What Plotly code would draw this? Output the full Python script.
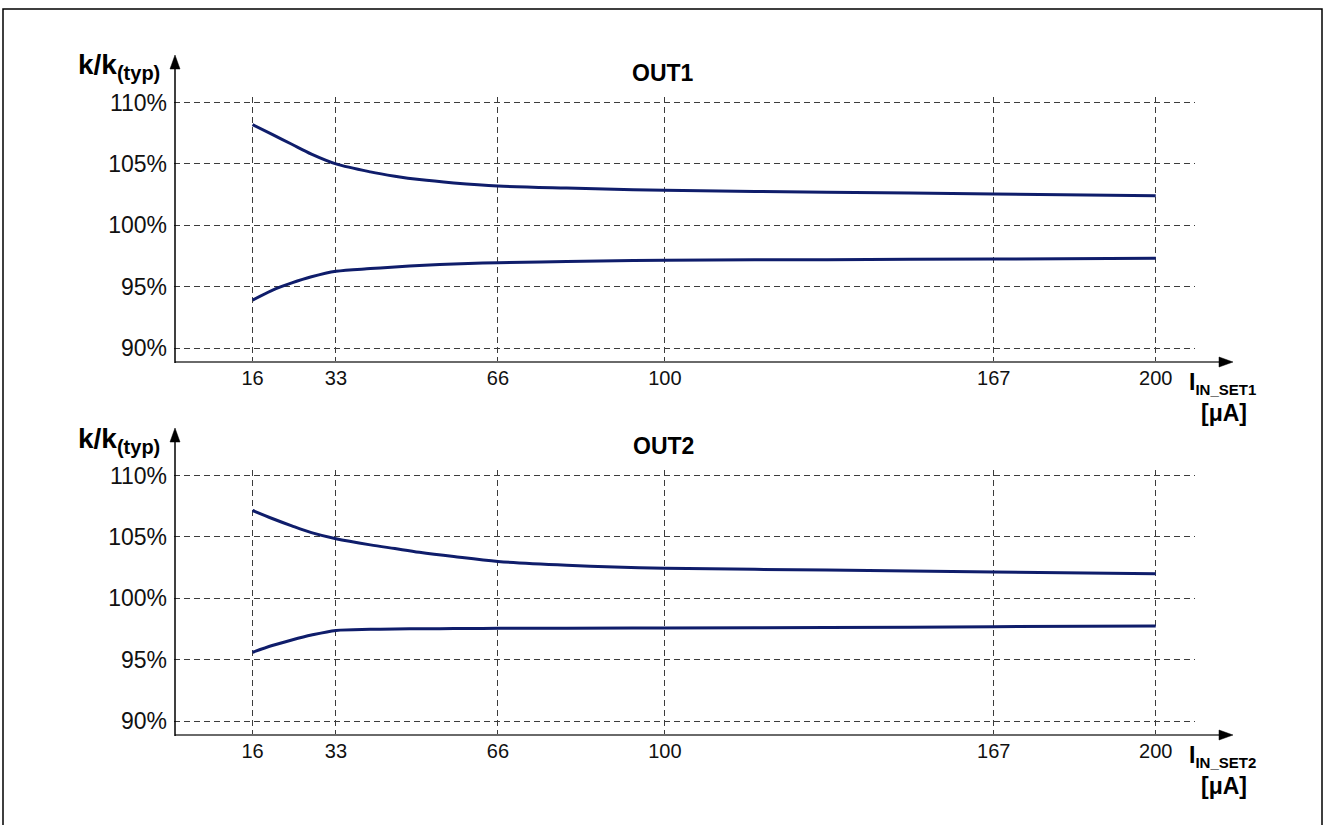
import plotly.graph_objects as go

W, H = 1328, 825

# ---- data ----
x_vals = [16, 20, 24, 28, 33, 40, 45, 50, 57, 66, 80, 100, 133, 167, 200]
out1_upper = [108.2, 107.4, 106.6, 105.8, 105.0, 104.35, 104.0, 103.72, 103.45, 103.2, 103.03, 102.85, 102.7, 102.55, 102.4]
out1_lower = [93.9, 94.7, 95.3, 95.8, 96.25, 96.47, 96.6, 96.72, 96.84, 96.95, 97.05, 97.15, 97.2, 97.25, 97.32]
out2_upper = [107.15, 106.5, 105.9, 105.35, 104.85, 104.35, 104.05, 103.75, 103.4, 103.0, 102.7, 102.45, 102.3, 102.15, 102.0]
out2_lower = [95.6, 96.15, 96.6, 97.0, 97.38, 97.47, 97.5, 97.52, 97.53, 97.55, 97.56, 97.58, 97.62, 97.68, 97.75]

x_ticks = [16, 33, 66, 100, 167, 200]
x_tick_labels = ["16", "33", "66", "100", "167", "200"]
y_ticks = [90, 95, 100, 105, 110]
y_tick_labels = ["90%", "95%", "100%", "105%", "110%"]
titles = ["OUT1", "OUT2"]
x_titles = ["IN_SET1", "IN_SET2"]

FONT = "Liberation Sans, Arial, sans-serif"
LINE_COLOR = "#0f1d6b"
GRID_COLOR = "#3c3c3c"


def px(x):
    return x / W


def py(y):
    return 1 - y / H


fig = go.Figure()

# plot-area pixel geometry
x_left, x_right = 174, 1195
panels = [
    dict(top=97, bottom=362, xa="x", ya="y", up=out1_upper, lo=out1_lower),
    dict(top=470, bottom=735, xa="x2", ya="y2", up=out2_upper, lo=out2_lower),
]

for p in panels:
    for ys in (p["up"], p["lo"]):
        fig.add_trace(go.Scatter(
            x=x_vals, y=ys, mode="lines",
            line=dict(color=LINE_COLOR, width=3, shape="spline", smoothing=0.9),
            xaxis=p["xa"], yaxis=p["ya"], showlegend=False, hoverinfo="skip",
        ))

axis_common_x = dict(
    range=[0, 208], tickvals=x_ticks, ticktext=x_tick_labels,
    showgrid=True, gridcolor=GRID_COLOR, gridwidth=1, griddash="6px,4px",
    zeroline=False, showline=False, ticks="", automargin=False,
    tickfont=dict(family=FONT, size=20, color="#111"),
    ticklabelstandoff=2,
)
axis_common_y = dict(
    range=[88.86, 110.45], tickvals=y_ticks, ticktext=y_tick_labels,
    showgrid=True, gridcolor=GRID_COLOR, gridwidth=1, griddash="6px,4px",
    zeroline=False, showline=False, ticks="", automargin=False,
    tickfont=dict(family=FONT, size=23, color="#111"),
    ticklabelstandoff=6,
)

layout = dict(
    template="none",
    width=W, height=H, autosize=False,
    margin=dict(l=0, r=0, t=0, b=0, pad=0, autoexpand=False),
    paper_bgcolor="white", plot_bgcolor="white",
    showlegend=False,
)
for i, p in enumerate(panels):
    sfx = "" if i == 0 else "2"
    layout["xaxis" + sfx] = dict(axis_common_x, domain=[px(x_left), px(x_right)],
                                 anchor="y" + sfx)
    layout["yaxis" + sfx] = dict(axis_common_y, domain=[py(p["bottom"]), py(p["top"])],
                                 anchor="x" + sfx)
fig.update_layout(**layout)

shapes = []
annotations = []
# outer frame
shapes.append(dict(type="rect", xref="paper", yref="paper",
                   x0=px(3), x1=px(1322), y0=py(835), y1=py(9),
                   line=dict(color="black", width=1.5)))

for i, p in enumerate(panels):
    ax_y = p["bottom"]
    # x axis line + arrow
    shapes.append(dict(type="line", xref="paper", yref="paper",
                       x0=px(175), x1=px(1222), y0=py(ax_y), y1=py(ax_y),
                       line=dict(color="#6a6a6a", width=2)))
    shapes.append(dict(type="path", xref="paper", yref="paper",
                       path=f"M {px(1233)} {py(ax_y)} L {px(1219)} {py(ax_y - 5)} L {px(1219)} {py(ax_y + 5)} Z",
                       fillcolor="black", line=dict(color="black", width=0.5)))
    # y axis line + arrow
    y_tip = p["top"] - 42
    shapes.append(dict(type="line", xref="paper", yref="paper",
                       x0=px(175), x1=px(175), y0=py(ax_y + 1), y1=py(y_tip + 10),
                       line=dict(color="black", width=1.5)))
    shapes.append(dict(type="path", xref="paper", yref="paper",
                       path=f"M {px(175)} {py(y_tip)} L {px(170)} {py(y_tip + 14)} L {px(180)} {py(y_tip + 14)} Z",
                       fillcolor="black", line=dict(color="black", width=0.5)))

    # y axis label k/k(typ)
    annotations.append(dict(
        xref="paper", yref="paper", x=px(76), y=py(p["top"] - 30),
        xanchor="left", yanchor="middle", showarrow=False,
        text="<b>k/k</b><sub><b><span style='font-size:20px'>(typ)</span></b></sub>",
        font=dict(family=FONT, size=28, color="black"),
    ))
    # panel title
    annotations.append(dict(
        xref="paper", yref="paper", x=px(663), y=py(p["top"] - 24),
        xanchor="center", yanchor="middle", showarrow=False,
        text=f"<b>{titles[i]}</b>",
        font=dict(family=FONT, size=23, color="black"),
    ))
    # x axis label
    annotations.append(dict(
        xref="paper", yref="paper", x=px(1187), y=py(ax_y + 21),
        xanchor="left", yanchor="middle", showarrow=False,
        text=f"<b>I</b><sub><b><span style='font-size:15px'>{x_titles[i]}</span></b></sub>",
        font=dict(family=FONT, size=23, color="black"),
    ))
    annotations.append(dict(
        xref="paper", yref="paper", x=px(1224), y=py(ax_y + 51),
        xanchor="center", yanchor="middle", showarrow=False,
        text="<b>[μA]</b>",
        font=dict(family=FONT, size=23, color="black"),
    ))

fig.update_layout(shapes=shapes, annotations=annotations)
fig.write_html(
    "out.html",
    config={"displayModeBar": False},
    post_script=(
        "document.body.style.margin='0';"
        "document.body.style.overflow='hidden';"
        "var gd=document.querySelector('.plotly-graph-div');"
        "gd.style.position='absolute';gd.style.top='0px';gd.style.left='0px';"
    ),
)
